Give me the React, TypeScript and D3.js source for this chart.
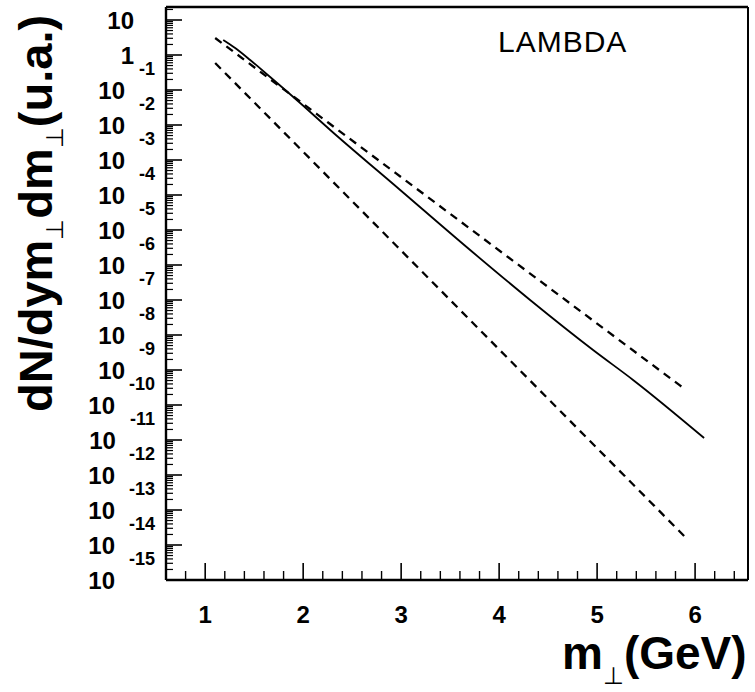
import React from "react";
import * as d3 from "d3";

// ---- data ----
const solidX = [1.184, 1.306, 1.459, 1.663, 1.969, 2.276, 2.99, 3.704, 4.316, 4.959, 5.367, 6.092];
const solidY = [2.68, 1.58, 0.72, 0.235, 0.0425, 0.0072, 1.39e-4, 2.68e-6, 1.0e-7, 3.72e-9, 5.2e-10, 1.14e-11];
const upperDashX = [1.102, 3.5, 5.867];
const upperDashY = [3.06, 2.9e-5, 3.27e-10];
const lowerDashX = [1.102, 3.5, 5.898];
const lowerDashY = [0.59, 1.0e-7, 1.7e-14];
const xTickLabels = [1, 2, 3, 4, 5, 6];
const yExponents = [1, 0, -1, -2, -3, -4, -5, -6, -7, -8, -9, -10, -11, -12, -13, -14, -15];
const annotation = "LAMBDA";

const W = 755;
const H = 692;
const FONT = "'Liberation Sans', Arial, Helvetica, sans-serif";

export default function App() {
  const x = d3.scaleLinear().domain([0.6, 6.54]).range([166, 748]);
  const y = d3.scaleLog().domain([1e-15, Math.pow(10, 1 + 13 / 35)]).range([580, 7]);

  const line = d3
    .line<[number, number]>()
    .x((d) => x(d[0]))
    .y((d) => y(d[1]))
    .curve(d3.curveMonotoneX);

  const solid = solidX.map((v, i) => [v, solidY[i]] as [number, number]);
  const up = upperDashX.map((v, i) => [v, upperDashY[i]] as [number, number]);
  const lo = lowerDashX.map((v, i) => [v, lowerDashY[i]] as [number, number]);

  // ticks
  const xMinor = d3.range(0.8, 6.5, 0.2).filter((v) => Math.abs(v - Math.round(v)) > 1e-6);
  const yMajor = yExponents.map((e) => Math.pow(10, e));
  const yMinor: number[] = [];
  for (let e = -15; e <= 1; e++) {
    for (let m = 2; m <= 9; m++) {
      const v = m * Math.pow(10, e);
      if (y(v) >= 8) yMinor.push(v);
    }
  }

  const left = x.range()[0];
  const right = x.range()[1];
  const top = y.range()[1];
  const bottom = y.range()[0];

  return (
    <svg
      width={W}
      height={H}
      style={{ position: "absolute", left: 0, top: 0, background: "#fff" }}
      fontFamily={FONT}
    >
      <rect x={0} y={0} width={W} height={H} fill="#fff" />

      {/* frame */}
      <line x1={left} x2={right} y1={top} y2={top} stroke="#000" strokeWidth={2.6} />
      <line x1={left} x2={right} y1={bottom} y2={bottom} stroke="#000" strokeWidth={2.6} />
      <line x1={left} x2={left} y1={top} y2={bottom} stroke="#000" strokeWidth={2.4} />
      <line x1={right} x2={right} y1={top} y2={bottom} stroke="#000" strokeWidth={2} />

      {/* x ticks */}
      {xTickLabels.map((v) => (
        <line key={"xM" + v} x1={x(v)} x2={x(v)} y1={bottom} y2={bottom - 17} stroke="#000" strokeWidth={1.6} />
      ))}
      {xMinor.map((v, i) => (
        <line key={"xm" + i} x1={x(v)} x2={x(v)} y1={bottom} y2={bottom - 9} stroke="#000" strokeWidth={1.4} />
      ))}

      {/* y ticks */}
      {yMajor.map((v, i) => (
        <line key={"yM" + i} x1={left} x2={left + 16} y1={y(v)} y2={y(v)} stroke="#000" strokeWidth={1.6} />
      ))}
      {yMinor.map((v, i) => (
        <line key={"ym" + i} x1={left} x2={left + 7} y1={y(v)} y2={y(v)} stroke="#000" strokeWidth={1.2} />
      ))}

      {/* x tick labels */}
      {xTickLabels.map((v) => (
        <text key={"xl" + v} x={x(v)} y={623} textAnchor="middle" fontSize={24} fontWeight="bold">
          {v}
        </text>
      ))}

      {/* y tick labels */}
      {yExponents.map((e) => {
        const yy = y(Math.pow(10, e));
        if (e === 1) {
          return (
            <text key={"yl" + e} x={134} y={yy + 8.5} textAnchor="end" fontSize={24} fontWeight="bold">
              10
            </text>
          );
        }
        if (e === 0) {
          return (
            <text key={"yl" + e} x={134} y={yy + 8.5} textAnchor="end" fontSize={24} fontWeight="bold">
              1
            </text>
          );
        }
        return (
          <text key={"yl" + e} x={155} y={yy + 8.5} textAnchor="end" fontSize={24} fontWeight="bold">
            <tspan>10</tspan>
            <tspan dx={14} dy={-24} fontSize={18}>
              {String(e)}
            </tspan>
          </text>
        );
      })}

      {/* curves */}
      <path d={line(up) || ""} fill="none" stroke="#000" strokeWidth={2.3} strokeDasharray="8,6" />
      <path d={line(lo) || ""} fill="none" stroke="#000" strokeWidth={2.3} strokeDasharray="8,6" />
      <path d={line(solid) || ""} fill="none" stroke="#000" strokeWidth={1.8} />

      {/* annotation */}
      <text x={498} y={52} fontSize={30} letterSpacing={1} fill="#000">
        {annotation}
      </text>

      {/* x title */}
      <text x={562} y={669} fontSize={46} fontWeight="bold">
        <tspan>m</tspan>
        <tspan fontSize={24} dy={15} fontWeight="normal">⊥</tspan>
        <tspan dy={-15}>(GeV)</tspan>
      </text>

      {/* y title */}
      <text transform="translate(52,412) rotate(-90)" x={0} y={0} fontSize={47} fontWeight="bold">
        <tspan>dN/dym</tspan>
        <tspan fontSize={24} dy={11} fontWeight="normal">⊥</tspan>
        <tspan dy={-11}>dm</tspan>
        <tspan fontSize={24} dy={11} fontWeight="normal">⊥</tspan>
        <tspan dy={-11}>(u.a.)</tspan>
      </text>
    </svg>
  );
}
